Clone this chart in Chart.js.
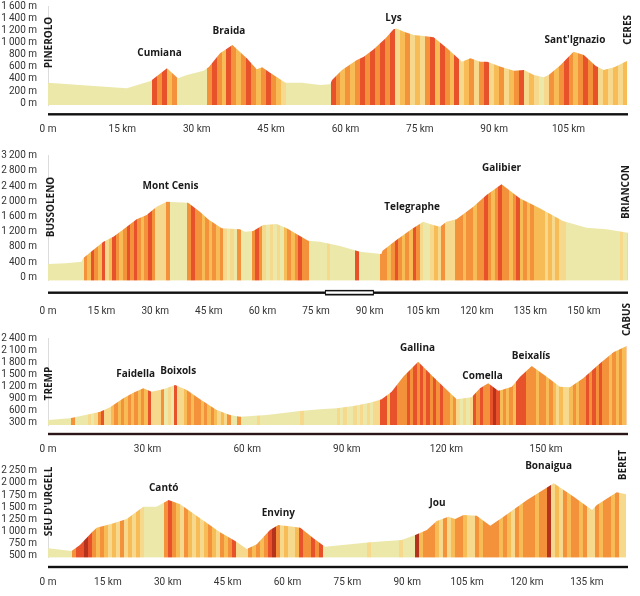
<!DOCTYPE html>
<html><head><meta charset="utf-8">
<script src="https://cdn.jsdelivr.net/npm/chart.js@4/dist/chart.umd.min.js"></script>
<style>
html,body{margin:0;padding:0;background:#fff;}
body{width:640px;height:596px;position:relative;overflow:hidden;}
canvas{position:absolute;left:0;}
</style></head><body>
<canvas id="c1" width="640" height="140" style="top:0px"></canvas>
<canvas id="c2" width="640" height="180" style="top:140px"></canvas>
<canvas id="c3" width="640" height="155" style="top:300px"></canvas>
<canvas id="c4" width="640" height="151" style="top:445px"></canvas>
<script>
// ---------- DATA ----------
// Stage 1: Pinerolo - Ceres
const km1 = [0,5,10,15.9,19.2,20.7,24,26.2,28,31.4,32.5,34.7,37.2,40.1,42.1,43.2,44.8,47.9,51.2,54.9,56.9,57.3,59.3,62.3,63.7,65.7,68.1,69.7,70.3,71.8,73.8,75.8,77.8,80.5,83.5,85.2,87.2,88.6,91.3,94,96,98,100,101,103.4,106,108.1,110.5,112.1,114.2,116.8];
const elev1 = [339,310,280,247,329,367,576,411,465,536,602,822,959,740,559,592,503,339,339,301,312,383,548,712,767,888,1069,1217,1230,1178,1123,1107,1086,905,684,740,684,684,602,536,546,465,428,465,630,849,794,613,548,592,696];
const grad1 = [0,0,0,0,0,0,0,0,0,0, 0,0,0,0,0,0,0,0,0,0, 0,4,3,4,2,3,0,0,0,0, 0,0,3,4,3,2,4,3,2,3,
  4,3,2,3,4,3,2,1,0,0, 0,0,0,0,0,0,0,4,3,2, 3,2,3,4,3,4,3,4,3,4, 1,2,3,1,2,1,3,4,2,4,
  3,2,4,1,2,3,1,3,4,1, 2,3,1,2,3,4,1,2,1,0, 1,3,2,3,4,3,2,3,4,3, 4,1,2,1,2,1,2];
const peaks1 = ['Cumiana','Braida','Lys',"Sant'Ignazio"];
const peakKm1 = [22.5,36.5,69.7,106.3];
const peakElev1 = [822,1184,1406,1046];
const xTicks1 = [0,15,30,45,60,75,90,105];
const yTicks1 = [0,200,400,600,800,1000,1200,1400,1600];

// Stage 2: Bussoleno - Briancon
const km2 = [0,5,9.4,9.8,15.5,18.3,21.5,24.8,27.6,30.4,33.2,39.2,42.5,44.8,48.6,53.7,55.1,57.4,60.2,64,66.8,70.5,72.8,76.1,81.7,87.3,93.3,93.6,97.5,101.7,105,107.8,109.7,111.5,114.3,119,122.7,126.9,132,137.6,144.1,150.7,156.3,162.3];
const elev2 = [350,370,411,500,937,1068,1289,1526,1639,1858,1989,1963,1726,1526,1289,1263,1200,1220,1376,1403,1289,1087,963,937,824,674,613,700,982,1263,1463,1376,1332,1463,1526,1858,2166,2447,2079,1816,1482,1305,1263,1174];
const grad2 = [0,0,0,0,0,0,0,0,0,0, 3,2,4,3,2,4,1,2,4,3, 2,3,4,3,4,3,2,3,4,3, 1,1,1,3,0,0,0,0,0,3,
  4,3,3,2,3,2,3,2,3,1, 0,1,0,3,0,0,0,3,4,3, 1,0,1,0,1,0,2,3,2,3, 4,3,3,0,0,0,0,0,1,0,
  0,0,0,0,0,0,4,0,0,0, 0,0,0,3,3,2,3,4,3,2, 3,2,4,3,1,0,0,1,2,1, 3,1,1,1,3,3,2,3,3,2,
  3,3,4,3,2,3,4,3,3,2, 3,4,2,3,2,3,2,2,2,1, 2,1,2,1,1,0,0,0,0,0, 0,0,0,0,0,0,0,0,0,0, 1,0,1];
const peaks2 = ['Mont Cenis','Telegraphe','Galibier'];
const peakKm2 = [34.3,101.9,126.9];
const peakElev2 = [2408,1836,2868];
const xTicks2 = [0,15,30,45,60,75,90,105,120,135,150];
const yTicks2 = [0,400,800,1200,1600,2000,2400,2800,3200];

// Stage 3: Tremp - Cabus
const km3 = [0,6.6,12.7,15.7,18.7,22.7,25.7,28.7,31.2,34.7,38.3,41.8,45.8,50.8,54.8,57.8,65.9,75.9,81.9,86.9,92,97,100.5,103.5,107,111.5,116,119.6,123.1,127.6,130.1,132.6,135.6,136.6,139.7,142.2,145.7,150.2,154.2,157.2,161.2,166.3,170.3,174.3];
const elev3 = [357,400,507,565,675,900,1040,1150,1065,1125,1232,1107,875,607,482,440,482,582,625,650,707,790,875,1065,1440,1815,1440,1150,875,925,1150,1275,1090,1107,1190,1440,1707,1440,1190,1175,1400,1775,2050,2207];
const grad3 = [0,0,0,0,0,0,0,3,0,0, 0,0,1,0,1,3,4,1,1,2, 3,2,3,2,3,2,3,2,3,2, 4,1,1,1,3,0,1,0,4,1,
  1,2,3,2,3,3,2,3,2,3, 2,1,2,1,3,0,0,3,0,0, 0,0,0,1,0,0,0,0,0,0, 0,0,0,0,0,0,1,0,0,0,
  0,0,0,0,0,0,0,1,0,1, 0,0,1,0,1,0,1,0,1,1, 4,4,2,4,4,3,3,3,4,3, 4,3,4,3,4,3,4,3,4,3,
  3,2,3,1,0,1,0,1,4,3, 4,3,3,4,5,4,2,3,2,3, 2,4,4,4,3,3,3,2,3,3, 2,3,2,1,2,1,1,2,3,2,
  3,3,4,3,4,3,4,3,3,2, 3,2,3,2,3];
const peaks3 = ['Faidella','Boixols','Gallina','Comella','Beixalís'];
const peakKm3 = [26.4,39.2,111.3,130.9,145.5];
const peakElev3 = [1508,1570,2150,1462,1962];
const xTicks3 = [0,30,60,90,120,150];
const yTicks3 = [300,600,900,1200,1500,1800,2100,2400];

// Stage 4: Seu d'Urgell - Beret
const km4 = [0,5.9,8,11,12.2,16.4,19.7,23.9,27.2,30.2,33.1,38.1,43.1,46.9,49.8,52.3,55.6,57.7,61.5,63.2,66.5,68.2,69.4,80.7,88.6,92,94.9,97.4,100.3,102,104.1,107.4,110.8,114.1,120,126.7,131.7,136.3,137.5,142.5,144.8];
const elev4 = [658,603,726,987,1081,1171,1260,1512,1512,1650,1561,1274,987,808,644,740,1034,1137,1102,1081,863,760,690,781,828,931,1034,1219,1307,1260,1342,1328,1122,1307,1650,1993,1718,1444,1546,1808,1767];
const grad4 = [0,0,0,0,0,0,3,4,4,5, 4,3,2,3,2,1,2,1,3,1, 2,1,2,1,0,0,0,0,0,3, 4,3,2,1,3,2,1,2,1,2,
  3,2,1,3,2,3,4,1,1,1, 3,2,3,2,3,4,5,3,1,2, 1,1,2,4,3,3,4,3,4,0, 0,0,0,0,0,0,0,0,0,0,
  1,0,0,0,0,0,0,0,1,0, 0,0,5,2,3,3,3,2,1,3, 1,2,3,3,2,1,1,3,2,3, 3,3,3,2,3,2,1,3,2,3,
  3,3,2,3,3,5,1,2,1,3, 2,3,3,2,3,1,1,3,2,3, 3,2,3,1,1];
const peaks4 = ['Cantó','Enviny','Jou','Bonaigua'];
const peakKm4 = [29,57.7,97.6,125.4];
const peakElev4 = [1896,1380,1588,2342];
const xTicks4 = [0,15,30,45,60,75,90,105,120,135];
const yTicks4 = [500,750,1000,1250,1500,1750,2000,2250];

const startNames = ['PINEROLO','BUSSOLENO','TREMP',"SEU D'URGELL"];
const endNames = ['CERES','BRIANCON','CABUS','BERET'];

// ---------- STYLE ----------
const LEVEL_COLORS = ['#ECE8AA','#F6D98C','#F7BC55','#F3923A','#E8522B','#B5321C'];

function stripeFill(grad) {
  return (context) => {
    const chart = context.chart;
    const xs = chart.scales && chart.scales.x;
    if (!chart.chartArea || !xs) return LEVEL_COLORS[0];
    const x0 = xs.getPixelForValue(0), x1 = xs.getPixelForValue(grad.length);
    const g = chart.ctx.createLinearGradient(x0, 0, x1, 0);
    const n = grad.length;
    grad.forEach((lv, i) => {
      const c = LEVEL_COLORS[lv];
      g.addColorStop(i / n, c);
      g.addColorStop((i + 1) / n, c);
    });
    return g;
  };
}

function fmtElev(v) {
  if (v >= 1000) return Math.floor(v / 1000) + '\u2009' + String(v % 1000).padStart(3, '0') + ' m';
  return v + ' m';
}

function profilePlugin(p) {
  return {
    id: 'profile' + p.idx,
    afterDraw(chart) {
      const {ctx, chartArea: a, scales: {x, y}} = chart;
      ctx.save();
      const ly = a.bottom + p.lineOff;
      ctx.fillStyle = p.lineColor;
      ctx.fillRect(a.left, ly - 1.2, a.right - a.left, 2.4);
      if (p.tunnel) {
        const t0 = x.getPixelForValue(p.tunnel[0]), t1 = x.getPixelForValue(p.tunnel[1]);
        ctx.fillStyle = '#111';
        ctx.fillRect(t0, ly - 2.8, t1 - t0, 5.6);
        ctx.fillStyle = '#fff';
        ctx.fillRect(t0 + 1, ly - 1.3, t1 - t0 - 2, 2.4);
      }
      ctx.font = '700 10px "Open Sans"';
      ctx.fillStyle = '#1a1a1a';
      ctx.textAlign = 'center';
      ctx.textBaseline = 'middle';
      p.peaks.forEach((n, i) => ctx.fillText(n, x.getPixelForValue(p.peakKm[i]), y.getPixelForValue(p.peakElev[i])));
      const items = [[startNames[p.idx], a.left + p.sDx, p.sTop], [endNames[p.idx], a.right + p.eDx, p.eTop]];
      items.forEach(([t, px, top]) => {
        ctx.save();
        ctx.translate(px, top);
        ctx.rotate(-Math.PI / 2);
        ctx.textAlign = 'right';
        ctx.textBaseline = 'middle';
        ctx.fillText(t, 0, 0);
        ctx.restore();
      });
      ctx.restore();
    }
  };
}

const panels = [
  {idx:0, id:'c1', padTop:6, xH:35, yMin:-28, yMax:1600, xMax:117, km:km1, elev:elev1, grad:grad1, xTicks:xTicks1, yTicks:yTicks1,
   peaks:peaks1, peakKm:peakKm1, peakElev:peakElev1, tickPad:18, lineOff:9.3, lineColor:'#111', sDx:1, sTop:16.7, eDx:0.3, eTop:15},
  {idx:1, id:'c2', padTop:15.7, xH:39.3, yMin:-90, yMax:3200, xMax:162.3, km:km2, elev:elev2, grad:grad2, xTicks:xTicks2, yTicks:yTicks2,
   peaks:peaks2, peakKm:peakKm2, peakElev:peakElev2, tickPad:25, lineOff:12, lineColor:'#111', sDx:3, sTop:36.7, eDx:-1.8, eTop:25, tunnel:[77.5,91.2]},
  {idx:2, id:'c3', padTop:38.3, xH:30, yMin:232, yMax:2400, xMax:174.7, km:km3, elev:elev3, grad:grad3, xTicks:xTicks3, yTicks:yTicks3,
   peaks:peaks3, peakKm:peakKm3, peakElev:peakElev3, tickPad:18, lineOff:9, lineColor:'#2a1618', sDx:1, sTop:66.7, eDx:-1.3, eTop:3},
  {idx:3, id:'c4', padTop:25.7, xH:38.3, yMin:465, yMax:2250, xMax:145.3, km:km4, elev:elev4, grad:grad4, xTicks:xTicks4, yTicks:yTicks4,
   peaks:peaks4, peakKm:peakKm4, peakElev:peakElev4, tickPad:18.6, lineOff:9.3, lineColor:'#111', sDx:1, sTop:21.7, eDx:-5.2, eTop:5}
];

const tickFont = {family: 'Roboto', size: 10};
function noPad(s) { s.paddingTop = 0; s.paddingBottom = 0; s.paddingLeft = 0; s.paddingRight = 0; }

panels.forEach(p => {
  new Chart(document.getElementById(p.id), {
    type: 'line',
    data: {
      datasets: [{
        data: p.km.map((k, i) => ({x: k, y: p.elev[i]})),
        fill: 'start',
        backgroundColor: stripeFill(p.grad),
        borderColor: 'rgba(0,0,0,0)',
        borderWidth: 0,
        pointRadius: 0,
        tension: 0
      }]
    },
    options: {
      responsive: false,
      animation: false,
      events: [],
      layout: {autoPadding: false, padding: {top: p.padTop, right: 12, left: 0, bottom: 0}},
      plugins: {legend: {display: false}, tooltip: {enabled: false}},
      scales: {
        x: {
          type: 'linear', min: 0, max: p.xMax,
          grid: {display: false, drawTicks: false},
          border: {display: false},
          afterFit: s => { s.height = p.xH; noPad(s); },
          afterBuildTicks: s => { s.ticks = p.xTicks.map(v => ({value: v})); },
          ticks: {font: tickFont, color: '#333', padding: p.tickPad, maxRotation: 0, autoSkip: false,
                  callback: v => v === 0 ? '0 m' : v + ' km'}
        },
        y: {
          type: 'linear', min: p.yMin, max: p.yMax,
          grid: {display: false, drawTicks: false},
          border: {display: true, color: '#dcdcdc', width: 1},
          afterFit: s => { s.width = 48; noPad(s); },
          afterBuildTicks: s => { s.ticks = p.yTicks.map(v => ({value: v})); },
          ticks: {font: tickFont, color: '#333', padding: 11, autoSkip: false, callback: v => fmtElev(v)}
        }
      }
    },
    plugins: [profilePlugin(p)]
  });
});
</script>
</body></html>
